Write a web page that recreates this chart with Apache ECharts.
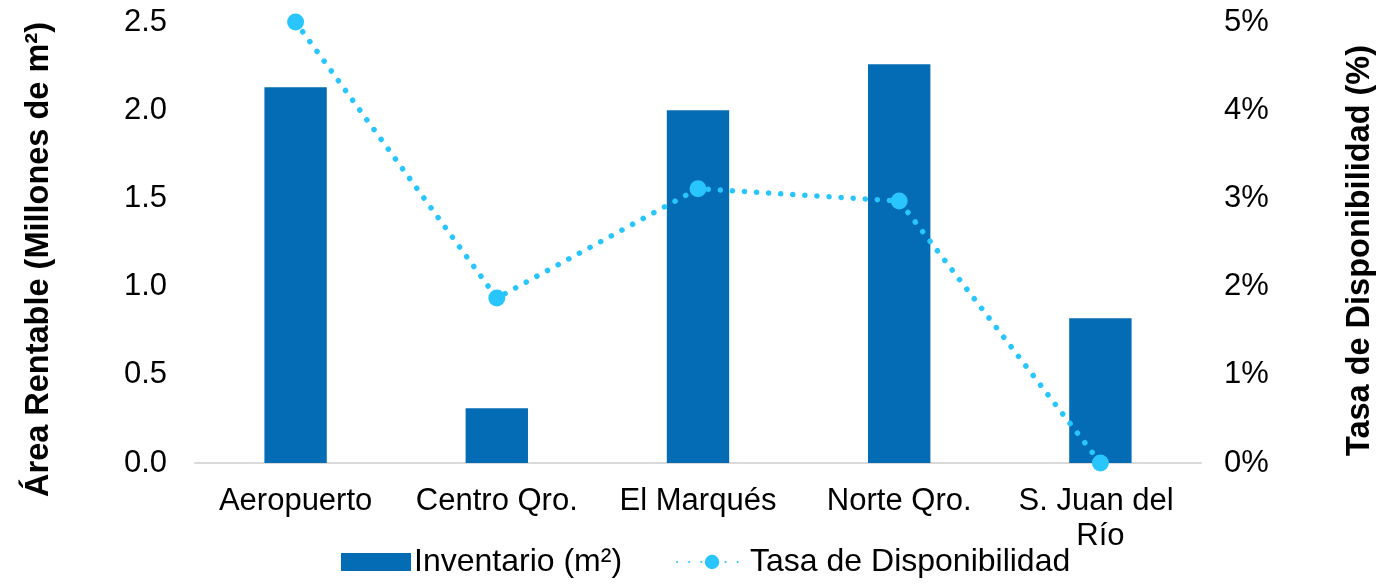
<!DOCTYPE html>
<html>
<head>
<meta charset="utf-8">
<script src="https://cdn.jsdelivr.net/npm/echarts@6/dist/echarts.min.js"></script>
<style>
html,body{margin:0;padding:0;background:#fff;}
#chart{width:1385px;height:586px;}
</style>
</head>
<body>
<div id="chart"></div>
<script>
const categories = ['Aeropuerto', 'Centro Qro.', 'El Marqués', 'Norte Qro.', 'S. Juan del Río'];
const inventario = [2.13, 0.31, 2.00, 2.26, 0.82];
const disponibilidad = [5.0, 1.87, 3.11, 2.97, 0.0];
const leftTicks = { min: 0, max: 2.5, interval: 0.5 };
const rightTicks = { min: 0, max: 5, interval: 1 };

const FONT = '"Liberation Sans", Arial, sans-serif';
const chart = echarts.init(document.getElementById('chart'));
chart.setOption({
  animation: false,
  backgroundColor: '#ffffff',
  textStyle: { fontFamily: FONT, color: '#000' },
  grid: { left: 195, right: 177, top: 22, bottom: 123, containLabel: false },
  legend: {
    bottom: 3,
    left: 336,
    itemWidth: 70,
    itemHeight: 18,
    itemGap: 54,
    textStyle: { fontFamily: FONT, fontSize: 32, color: '#000', padding: [0, 0, 0, -2] },
    data: [
      { name: 'Inventario (m²)', icon: 'rect' },
      { name: 'Tasa de Disponibilidad' }
    ]
  },
  xAxis: {
    type: 'category',
    data: categories,
    axisLine: { show: true, lineStyle: { color: '#D9D9D9', width: 2 } },
    axisTick: { show: false },
    axisLabel: {
      fontFamily: FONT, fontSize: 31, color: '#000', margin: 21,
      interval: 0, width: 185, overflow: 'break', lineHeight: 35
    }
  },
  yAxis: [
    {
      type: 'value',
      min: leftTicks.min, max: leftTicks.max, interval: leftTicks.interval,
      name: 'Área Rentable (Millones de m²)',
      nameLocation: 'middle',
      nameGap: 139,
      nameRotate: 90,
      nameTextStyle: { fontFamily: FONT, fontSize: 32.5, fontWeight: 'bold', color: '#000', padding: [0, 0, 0, -34] },
      axisLine: { show: false },
      axisTick: { show: false },
      splitLine: { show: false },
      axisLabel: { fontFamily: FONT, fontSize: 31, color: '#000', margin: 28, formatter: v => v.toFixed(1) }
    },
    {
      type: 'value',
      min: rightTicks.min, max: rightTicks.max, interval: rightTicks.interval,
      name: 'Tasa de Disponibilidad (%)',
      nameLocation: 'middle',
      nameGap: 143,
      nameRotate: 90,
      nameTextStyle: { fontFamily: FONT, fontSize: 32.5, fontWeight: 'bold', color: '#000', padding: [0, 0, 0, -16] },
      axisLine: { show: false },
      axisTick: { show: false },
      splitLine: { show: false },
      axisLabel: { fontFamily: FONT, fontSize: 31, color: '#000', margin: 23, formatter: v => v + '%' }
    }
  ],
  series: [
    {
      name: 'Inventario (m²)',
      type: 'bar',
      yAxisIndex: 0,
      data: inventario,
      barWidth: '31%',
      itemStyle: { color: '#046BB5' }
    },
    {
      name: 'Tasa de Disponibilidad',
      type: 'line',
      yAxisIndex: 1,
      data: disponibilidad,
      symbol: 'circle',
      symbolSize: 17,
      itemStyle: { color: '#29C5FF' },
      lineStyle: { color: '#29C5FF', width: 5.5, type: [0.1, 12], cap: 'round' },
      z: 5
    }
  ]
});
</script>
</body>
</html>
